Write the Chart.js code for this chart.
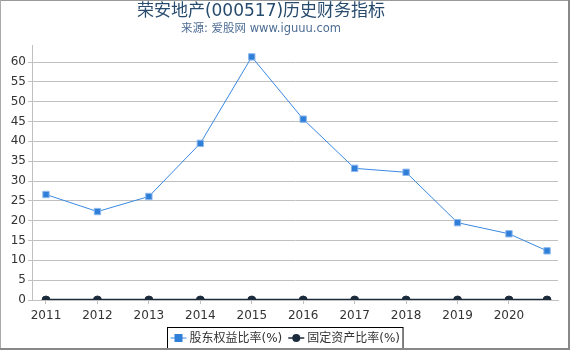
<!DOCTYPE html>
<html>
<head>
<meta charset="utf-8">
<script src="https://cdn.jsdelivr.net/npm/chart.js@4/dist/chart.umd.min.js"></script>
<style>
  html, body { margin: 0; padding: 0; background: #fff; }
  #wrap { width: 570px; height: 350px; }
</style>
</head>
<body>
<div id="wrap"><canvas id="c" width="570" height="350"></canvas></div>
<script>
// report periods (last one is a partial year, 3rd quarter)
const years = [2011, 2012, 2013, 2014, 2015, 2016, 2017, 2018, 2019, 2020, 2020.74]
const yearTicks = [2011, 2012, 2013, 2014, 2015, 2016, 2017, 2018, 2019, 2020]
const equityRatio = [26.6, 22.3, 26.1, 39.5, 61.3, 45.6, 33.2, 32.2, 19.5, 16.7, 12.4]
const fixedAssetRatio = [0, 0, 0, 0, 0, 0, 0, 0, 0, 0, 0]
const seriesNames = ["股东权益比率(%)", "固定资产比率(%)"]
const titleText = "荣安地产(000517)历史财务指标"
const subtitleText = "来源: 爱股网 www.iguuu.com"

const FONT = "'DejaVu Sans', 'Noto Sans CJK SC', sans-serif"
const blue = "#2f7ed8"
const dark = "#1c2b3c"

const toPoints = (vals) => vals.map((v, i) => ({ x: years[i], y: v }))

// title, frame and boxed legend
const decor = {
    id: "decor",
    afterDraw(chart) {
        const ctx = chart.ctx
        ctx.save()
        ctx.textAlign = "center"
        ctx.textBaseline = "middle"
        ctx.fillStyle = "#274b6d"
        ctx.font = "17px " + FONT
        ctx.fillText(titleText, 261, 12)
        ctx.fillStyle = "#4d6d94"
        ctx.font = "11.5px " + FONT
        ctx.fillText(subtitleText, 261, 29)

        // legend
        ctx.font = "12px " + FONT
        ctx.textAlign = "left"
        const sym = 16, gap = 3, itemGap = 6, pad = 3
        const widths = seriesNames.map(n => ctx.measureText(n).width)
        const total = pad * 2 + widths.reduce((a, w) => a + sym + gap + w, 0) + itemGap
        let x = Math.round(285 - total / 2) + 0.5
        const top = 327.5, h = 21, cy = top + h / 2
        ctx.strokeStyle = "#000"
        ctx.lineWidth = 1
        ctx.strokeRect(x, top, total, h)
        x += pad
        chart.data.datasets.forEach((ds, i) => {
            ctx.strokeStyle = ds.borderColor
            ctx.lineWidth = Math.min(ds.borderWidth, 1.5)
            ctx.beginPath()
            ctx.moveTo(x, cy)
            ctx.lineTo(x + sym, cy)
            ctx.stroke()
            ctx.fillStyle = ds.pointBackgroundColor
            if (ds.pointStyle === "rect") {
                ctx.fillRect(x + sym / 2 - 4, cy - 4, 8, 8)
            } else {
                ctx.beginPath()
                ctx.arc(x + sym / 2, cy, 4, 0, Math.PI * 2)
                ctx.fill()
            }
            ctx.fillStyle = "#333"
            ctx.fillText(ds.label, x + sym + gap, cy + 1)
            x += sym + gap + widths[i] + itemGap
        })

        // frame
        ctx.fillStyle = "#999"
        ctx.fillRect(0, 0, 570, 1)
        ctx.fillStyle = "#aaa"
        ctx.fillRect(0, 0, 1, 350)
        ctx.fillStyle = "#888"
        ctx.fillRect(568, 0, 2, 350)
        ctx.fillRect(0, 348, 570, 2)
        ctx.restore()
    }
}

new Chart(document.getElementById("c"), {
    type: "line",
    data: {
        datasets: [
            {
                label: seriesNames[0],
                data: toPoints(equityRatio),
                borderColor: "#3a88e0",
                borderWidth: 1,
                pointStyle: "rect",
                pointRadius: 4.5,
                pointBackgroundColor: blue,
                pointBorderColor: "#8db9ee",
                pointBorderWidth: 1,
                tension: 0,
                clip: 6
            },
            {
                label: seriesNames[1],
                data: toPoints(fixedAssetRatio),
                borderColor: dark,
                borderWidth: 2.5,
                pointStyle: "circle",
                pointRadius: 4,
                pointBackgroundColor: dark,
                pointBorderColor: dark,
                pointBorderWidth: 1,
                tension: 0,
                clip: { left: 6, right: 6, top: 6, bottom: 0 }
            }
        ]
    },
    options: {
        responsive: false,
        animation: false,
        events: [],
        layout: { padding: { left: 0, right: 12, top: 45, bottom: 24 } },
        plugins: {
            legend: { display: false },
            title: { display: false },
            tooltip: { enabled: false }
        },
        scales: {
            x: {
                type: "linear",
                min: 2010.728,
                max: 2020.953,
                afterBuildTicks: (axis) => { axis.ticks = yearTicks.map(v => ({ value: v })) },
                afterFit: (axis) => { axis.height = 26 },
                grid: { drawOnChartArea: false, drawTicks: true, tickLength: 4, color: "#c0c0c0" },
                border: { color: "#c0c0c0" },
                ticks: {
                    autoSkip: false,
                    maxRotation: 0,
                    padding: 5,
                    color: "#333",
                    font: { family: FONT, size: 12 },
                    callback: (v) => String(v)
                }
            },
            y: {
                min: 0,
                max: 64.3,
                afterBuildTicks: (axis) => { axis.ticks = axis.ticks.filter(t => t.value % 5 === 0) },
                afterFit: (axis) => { axis.width = 32 },
                grid: { color: "#c0c0c0", tickLength: 4, drawTicks: true },
                border: { color: "#c0c0c0" },
                ticks: {
                    stepSize: 5,
                    padding: 2,
                    color: "#333",
                    font: { family: FONT, size: 12 }
                }
            }
        }
    },
    plugins: [decor]
})
</script>
</body>
</html>
